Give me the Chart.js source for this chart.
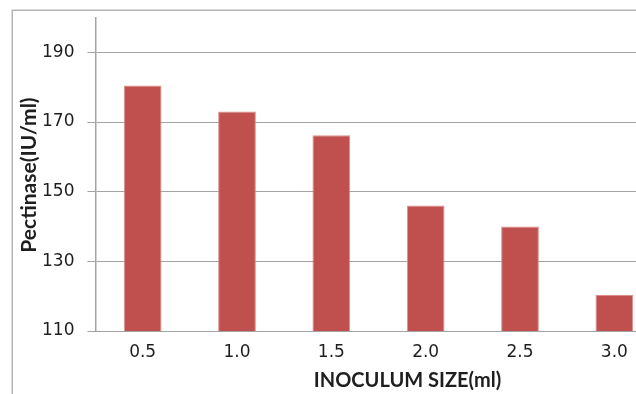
<!DOCTYPE html>
<html>
<head>
<meta charset="utf-8">
<script src="https://cdn.jsdelivr.net/npm/chart.js@4/dist/chart.umd.min.js"></script>
<style>
  html, body { margin: 0; padding: 0; background: #fff; width: 636px; height: 394px; overflow: hidden; }
  #wrap { position: absolute; left: 0; top: 0; width: 680px; height: 394px; }
</style>
</head>
<body>
<div id="wrap"><canvas id="chart" width="680" height="394"></canvas></div>
<script>
// Inoculum size (ml) vs. pectinase activity (IU/ml)
const inoculumSizes = ['0.5', '1.0', '1.5', '2.0', '2.5', '3.0'];
const pectinaseActivity = [180.5, 173, 166.2, 146, 140, 120.3];
const yTickValues = [110, 130, 150, 170, 190];
const xAxisTitle = 'INOCULUM SIZE(ml)';
const yAxisTitle = 'Pectinase(IU/ml)';

const textColor = '#1e1e1e';
const gridColor = '#a3a3a3';

// Outer chart frame and the two axis titles
const framePlugin = {
  id: 'frameAndTitles',
  beforeDraw(chart) {
    const ctx = chart.ctx;
    ctx.save();
    ctx.strokeStyle = '#b4b4b4';
    ctx.lineWidth = 1.5;
    ctx.strokeRect(12.25, 10.25, 700, chart.height + 10);
    ctx.restore();
  },
  afterDraw(chart) {
    const ctx = chart.ctx;
    ctx.save();
    ctx.fillStyle = textColor;
    ctx.textAlign = 'center';
    ctx.textBaseline = 'middle';
    ctx.font = 'bold 20px Lato';
    ctx.fillText(xAxisTitle, 407.5, 380.5);
    ctx.font = 'bold 21px Lato';
    ctx.translate(29, 175);
    ctx.rotate(-Math.PI / 2);
    ctx.fillText(yAxisTitle, 0, 0);
    ctx.restore();
  }
};

new Chart(document.getElementById('chart'), {
  type: 'bar',
  data: {
    labels: inoculumSizes,
    datasets: [{
      data: pectinaseActivity,
      backgroundColor: '#C0504D',
      borderColor: '#d98e8c',
      borderWidth: 1,
      borderSkipped: false,
      barPercentage: 0.40,
      categoryPercentage: 1.0
    }]
  },
  options: {
    responsive: false,
    animation: false,
    devicePixelRatio: 1,
    layout: { padding: { left: 0, top: 17.5, right: 18.5, bottom: 0 } },
    plugins: { legend: { display: false }, tooltip: { enabled: false } },
    scales: {
      x: {
        grid: { display: false, drawTicks: false },
        border: { display: true, color: gridColor, width: 1 },
        ticks: {
          color: textColor,
          font: { family: '"DejaVu Sans"', size: 17 },
          padding: 11,
          maxRotation: 0
        },
        afterFit(scale) {
          scale.height = 63;
          scale.paddingLeft = 0;
          scale.paddingRight = 0;
        }
      },
      y: {
        min: 110,
        max: 200,
        grid: { color: gridColor, lineWidth: 1, tickLength: 8, drawTicks: true },
        border: { display: true, color: gridColor, width: 1.5 },
        ticks: {
          color: textColor,
          font: { family: '"DejaVu Sans"', size: 17 },
          padding: 13,
          stepSize: 20
        },
        afterBuildTicks(scale) {
          scale.ticks = yTickValues.map(v => ({ value: v }));
        },
        afterFit(scale) {
          scale.width = 95.5;
          scale.paddingTop = 0;
          scale.paddingBottom = 0;
        }
      }
    }
  },
  plugins: [framePlugin]
});
</script>
</body>
</html>
